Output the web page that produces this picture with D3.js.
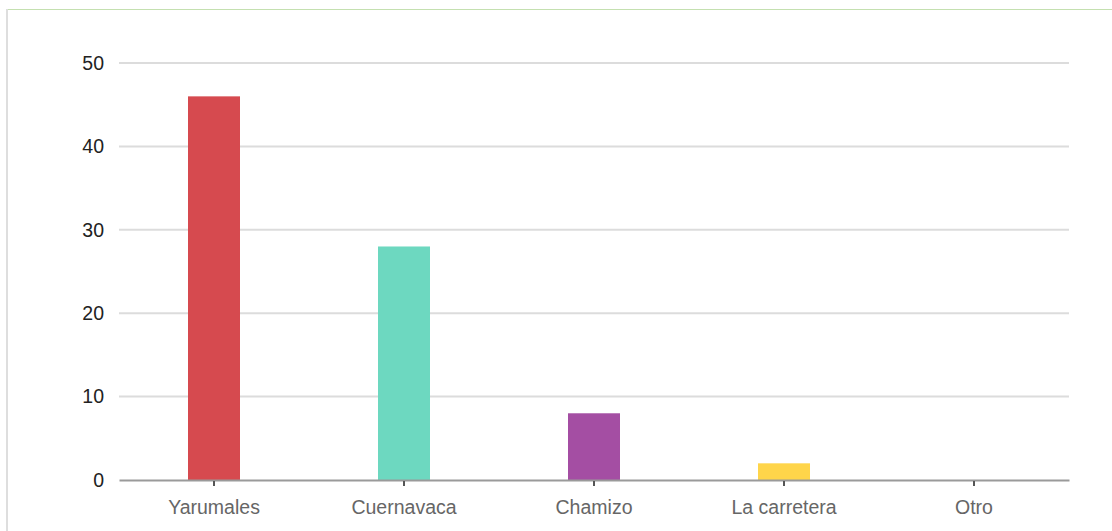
<!DOCTYPE html>
<html><head><meta charset="utf-8">
<script src="https://cdn.jsdelivr.net/npm/d3@7"></script>
<style>
html,body{margin:0;padding:0;background:#fff;}
svg{display:block;font-family:"Liberation Sans",Arial,sans-serif;}
</style></head>
<body><svg id="c" width="1112" height="531"></svg>
<script>
const categories = ["Yarumales","Cuernavaca","Chamizo","La carretera","Otro"];
const values = [46, 28, 8, 2, 0];
const colors = ["#d64a4f","#6dd8c0","#a44ea3","#ffd54a","#999999"];
const yTicks = [0,10,20,30,40,50];

const svg = d3.select("#c");
// frame
svg.append("line").attr("x1",7).attr("x2",1112).attr("y1",9.5).attr("y2",9.5).attr("stroke","#c4e0b0").attr("stroke-width",1.2);
svg.append("line").attr("x1",7).attr("x2",7).attr("y1",9).attr("y2",531).attr("stroke","#dedede").attr("stroke-width",2);

const x = d3.scaleBand().domain(categories).range([119,1069]).padding(0);
const y = d3.scaleLinear().domain([0,50]).range([480,63]);

// grid
svg.append("g").selectAll("line").data(yTicks.filter(d=>d>0)).join("line")
  .attr("x1",119).attr("x2",1069).attr("y1",d=>y(d)).attr("y2",d=>y(d))
  .attr("stroke","#dcdcdc").attr("stroke-width",2);

// y labels
const yAxis = svg.append("g").attr("transform","translate(104,0)")
  .call(d3.axisLeft(y).tickValues(yTicks).tickSize(0).tickPadding(0));
yAxis.select(".domain").remove();
yAxis.selectAll("text").attr("font-size",19.5).attr("fill","#222").attr("font-family","'Liberation Sans',Arial,sans-serif");

// bars
const bw = 52;
svg.append("g").selectAll("rect").data(categories).join("rect")
  .attr("x",(d)=>x(d)+x.bandwidth()/2-bw/2)
  .attr("width",bw)
  .attr("y",(d,i)=>y(values[i]))
  .attr("height",(d,i)=>y(0)-y(values[i]))
  .attr("fill",(d,i)=>colors[i]);

// x axis
const xAxis = svg.append("g").attr("transform","translate(0,480)")
  .call(d3.axisBottom(x).tickSize(6).tickPadding(14).tickSizeOuter(0));
xAxis.select(".domain").attr("stroke","#9a9a9a").attr("stroke-width",2);
xAxis.selectAll(".tick line").attr("stroke","#555").attr("stroke-width",2).attr("y1",1);
xAxis.selectAll("text").attr("font-size",19.5).attr("fill","#666").attr("font-family","'Liberation Sans',Arial,sans-serif");
</script></body></html>
